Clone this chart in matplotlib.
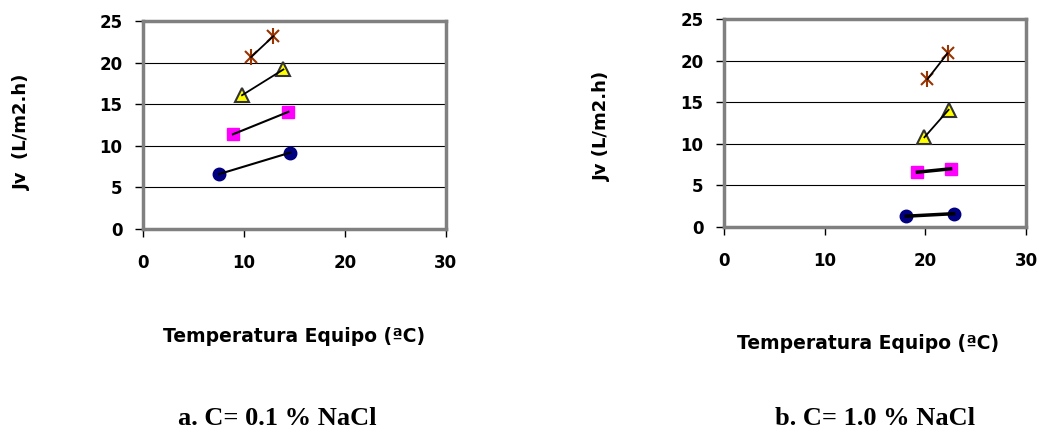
import numpy as np
import matplotlib
matplotlib.use("Agg")
import matplotlib.pyplot as plt

# panel a: C = 0.1 % NaCl
a_circ_x = [7.5, 14.6]
a_circ_y = [6.6, 9.2]
a_sq_x = [8.9, 14.4]
a_sq_y = [11.4, 14.1]
a_tri_x = [9.8, 13.9]
a_tri_y = [16.1, 19.2]
a_star_x = [10.7, 12.9]
a_star_y = [20.7, 23.2]

# panel b: C = 1.0 % NaCl
b_circ_x = [18.1, 22.8]
b_circ_y = [1.3, 1.6]
b_sq_x = [19.2, 22.5]
b_sq_y = [6.6, 7.0]
b_tri_x = [19.9, 22.3]
b_tri_y = [10.8, 14.1]
b_star_x = [20.2, 22.2]
b_star_y = [17.8, 20.9]

xticks = [0, 10, 20, 30]
yticks = [0, 5, 10, 15, 20, 25]
xlabel = "Temperatura Equipo (ªC)"
ylabels = ["Jv  (L/m2.h)", "Jv (L/m2.h)"]
captions = ["a. C= 0.1 % NaCl", "b. C= 1.0 % NaCl"]

plt.rcParams['font.family'] = ['DejaVu Sans']

fig = plt.figure(figsize=(10.39, 4.36), dpi=100)
ax1 = fig.add_axes([0.1379, 0.4748, 0.2910, 0.4764])
ax2 = fig.add_axes([0.6971, 0.4794, 0.2904, 0.4764])


def draw(ax, cx, cy, sx, sy, tx, ty, kx, ky, lw_low):
    ax.plot(cx, cy, color='black', lw=lw_low, zorder=3)
    ax.plot(sx, sy, color='black', lw=lw_low, zorder=3)
    ax.plot(tx, ty, color='black', lw=1.3, zorder=3)
    ax.plot(kx, ky, color='black', lw=1.3, zorder=3)
    ax.plot(cx, cy, ls='none', marker='o', ms=9, mfc='#000080', mec='#000080', zorder=2)
    ax.plot(sx, sy, ls='none', marker='s', ms=9, mfc='#ff00ff', mec='#ff00ff', zorder=2)
    ax.plot(tx, ty, ls='none', marker='^', ms=10, mfc='#ffff00', mec='#333333', mew=1.5, zorder=2)
    ax.plot(kx, ky, ls='none', marker='x', ms=9, mec='#993300', mew=1.5, zorder=2)
    ax.plot(kx, ky, ls='none', marker='|', ms=11, mec='#993300', mew=1.5, zorder=2)
    ax.set_xlim(0, 30)
    ax.set_ylim(0, 25)
    ax.set_xticks(xticks)
    ax.set_yticks(yticks)
    ax.grid(True, axis='y', color='black', lw=0.8)
    ax.set_axisbelow(True)
    for s in ax.spines.values():
        s.set_color('#808080')
        s.set_linewidth(2.5)
    ax.tick_params(axis='x', direction='out', length=6, width=1, color='black',
                   labelsize=12, pad=12)
    ax.tick_params(axis='y', direction='out', length=6, width=1, color='black',
                   labelsize=12, pad=9)
    for lab in ax.get_xticklabels() + ax.get_yticklabels():
        lab.set_fontweight('bold')


draw(ax1, a_circ_x, a_circ_y, a_sq_x, a_sq_y, a_tri_x, a_tri_y, a_star_x, a_star_y, 1.5)
draw(ax2, b_circ_x, b_circ_y, b_sq_x, b_sq_y, b_tri_x, b_tri_y, b_star_x, b_star_y, 2.5)

W, H = 1039, 436
fig.text(22 / W, 1 - 132 / H, ylabels[0], rotation=90, ha='center', va='center',
         fontsize=13, fontweight='bold')
fig.text(602 / W, 1 - 126 / H, ylabels[1], rotation=90, ha='center', va='center',
         fontsize=13, fontweight='bold')
fig.text(294 / W, 1 - 337 / H, xlabel, ha='center', va='center',
         fontsize=13.5, fontweight='bold')
fig.text(868 / W, 1 - 343 / H, xlabel, ha='center', va='center',
         fontsize=13.5, fontweight='bold')
fig.text(277 / W, 1 - 418 / H, captions[0], ha='center', va='center',
         fontsize=19, fontweight='bold', family=['Liberation Serif', 'DejaVu Serif'])
fig.text(875 / W, 1 - 418 / H, captions[1], ha='center', va='center',
         fontsize=19, fontweight='bold', family=['Liberation Serif', 'DejaVu Serif'])

fig.savefig('out.png', dpi=100)
